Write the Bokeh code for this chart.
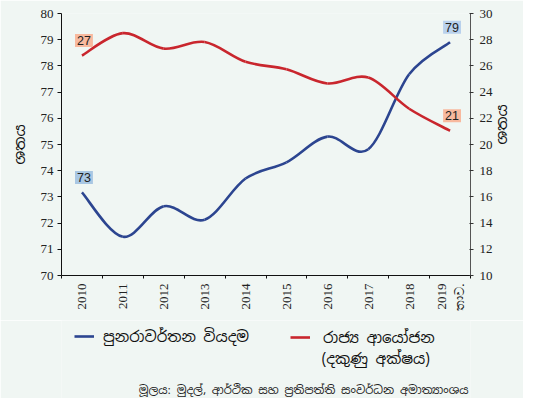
import math
from bokeh.plotting import figure
from bokeh.layouts import column
from bokeh.models import (Range1d, LinearAxis, FixedTicker, SingleIntervalTicker,
                          Label, Legend, LegendItem, ColumnDataSource)
from bokeh.embed import file_html
from bokeh.resources import INLINE

# ---- data ----
years = ["2010", "2011", "2012", "2013", "2014", "2015", "2016", "2017", "2018", "2019\nතාව."]
recurrent = [73.17, 71.48, 72.64, 72.13, 73.70, 74.32, 75.30, 74.82, 77.68, 78.90]      # left axis
investment = [26.79, 28.50, 27.32, 27.82, 26.32, 25.74, 24.66, 25.11, 22.73, 21.05]     # right axis
name_recurrent = "පුනරාවර්තන වියදම"
name_investment = "රාජ්‍ය ආයෝජන"
name_investment_note = "(දකුණු අක්ෂය)"
axis_title = "ශතය"
source_note = "මූලය: මුදල්, ආර්ථික සහ ප්‍රතිපත්ති සංවර්ධන අමාත්‍යාංශය"

BG = "#f0f6f3"
BLUE = "#2c4590"
RED = "#c9262d"
SINH = "Noto Sans Sinhala"
SERIF = "Liberation Serif"

W, H_MAIN, H_FOOT = 523, 320, 78
B_LEFT, B_RIGHT = 61, 50


def smooth_source(ys):
    xs = list(range(len(ys)))
    n = len(ys)
    d = dict(x0=[], y0=[], x1=[], y1=[], cx0=[], cy0=[], cx1=[], cy1=[])
    for i in range(n - 1):
        a = max(i - 1, 0)
        b = min(i + 2, n - 1)
        d["x0"].append(xs[i]); d["y0"].append(ys[i])
        d["x1"].append(xs[i + 1]); d["y1"].append(ys[i + 1])
        d["cx0"].append(xs[i] + (xs[i + 1] - xs[a]) / 6)
        d["cy0"].append(ys[i] + (ys[i + 1] - ys[a]) / 6)
        d["cx1"].append(xs[i + 1] - (xs[b] - xs[i]) / 6)
        d["cy1"].append(ys[i + 1] - (ys[b] - ys[i]) / 6)
    return ColumnDataSource(d)


def bez(fig, ys, color, **kw):
    return fig.bezier(x0="x0", y0="y0", x1="x1", y1="y1", cx0="cx0", cy0="cy0",
                      cx1="cx1", cy1="cy1", source=smooth_source(ys),
                      line_color=color, line_width=2.6, **kw)


# ================= main chart =================
fig = figure(width=W, height=H_MAIN, output_backend="svg", toolbar_location=None,
             x_range=Range1d(-0.5, len(years) - 0.5), y_range=Range1d(70, 80),
             min_border_left=B_LEFT, min_border_right=B_RIGHT, min_border_top=13,
             min_border_bottom=45)
fig.background_fill_color = BG
fig.border_fill_color = BG
fig.outline_line_color = None
fig.xgrid.visible = False
fig.ygrid.visible = False
fig.extra_y_ranges = {"right": Range1d(10, 30)}

# left axis
ya = fig.yaxis[0]
ya.ticker = SingleIntervalTicker(interval=1)
ya.major_tick_out = 4
ya.major_tick_in = 0
ya.minor_tick_out = 0
ya.minor_tick_in = 0
ya.axis_line_color = "#111111"
ya.major_tick_line_color = "#111111"
ya.major_label_text_font = SERIF
ya.major_label_text_font_size = "13px"
ya.major_label_text_color = "#222222"
ya.major_label_standoff = 4
ya.axis_label = axis_title
ya.axis_label_text_font = SINH
ya.axis_label_text_font_style = "normal"
ya.axis_label_text_font_size = "15px"
ya.axis_label_text_color = "#111111"
ya.axis_label_standoff = 9

# right axis (title reads bottom-to-top, like the left one)
ra = LinearAxis(y_range_name="right", ticker=SingleIntervalTicker(interval=2))
ra.major_tick_out = 3
ra.major_tick_in = 1
ra.minor_tick_out = 0
ra.minor_tick_in = 0
ra.axis_line_color = "#555555"
ra.major_tick_line_color = "#333333"
ra.major_label_text_font = SERIF
ra.major_label_text_font_size = "13px"
ra.major_label_text_color = "#222222"
ra.major_label_standoff = 6
ra.axis_label = axis_title
ra.axis_label_orientation = math.pi / 2
ra.axis_label_text_font = SINH
ra.axis_label_text_font_style = "normal"
ra.axis_label_text_font_size = "15px"
ra.axis_label_text_color = "#111111"
ra.axis_label_standoff = 6
fig.add_layout(ra, "right")

# bottom axis
xa = fig.xaxis[0]
xa.ticker = FixedTicker(ticks=list(range(len(years))),
                        minor_ticks=[i - 0.5 for i in range(len(years) + 1)])
xa.major_label_overrides = {i: y for i, y in enumerate(years)}
xa.major_label_orientation = math.pi / 2
xa.major_tick_out = 0
xa.major_tick_in = 0
xa.minor_tick_out = 3
xa.minor_tick_in = 0
xa.minor_tick_line_color = "#111111"
xa.axis_line_color = "#111111"
xa.major_label_text_font = SERIF
xa.major_label_text_font_size = "13px"
xa.major_label_text_color = "#222222"
xa.major_label_standoff = 5

# smoothed lines through the data points
r_blue = bez(fig, recurrent, BLUE)
r_red = bez(fig, investment, RED, y_range_name="right")

# data labels at first and last points
last = len(years) - 1
for xv, yv, rng, bg in [(0, recurrent[0], "default", "#a9c7e3"),
                        (last, recurrent[last], "default", "#b9d1ec"),
                        (0, investment[0], "right", "#f8b99e"),
                        (last, investment[last], "right", "#f8b99e")]:
    fig.add_layout(Label(x=xv, y=yv, y_range_name=rng, text=str(round(yv)),
                         text_align="center", text_baseline="middle", y_offset=15, x_offset=2,
                         text_font="Liberation Sans", text_font_size="12.5px",
                         text_color="#222222", background_fill_color=bg, padding=2))

# ================= footer: legend + source =================
# the footer's frame is aligned with the chart's frame, so its x range is set
# to page pixels over that frame
foot = figure(width=W, height=H_FOOT, output_backend="svg", toolbar_location=None,
              x_range=Range1d(B_LEFT, W - B_RIGHT), y_range=Range1d(0, H_FOOT), min_border=0,
              x_axis_location=None, y_axis_location=None)
foot.background_fill_color = BG
foot.border_fill_color = BG
foot.outline_line_color = None
foot.xgrid.visible = False
foot.ygrid.visible = False

# hidden copies of the two series, used only for the legend swatches
k_blue = bez(foot, recurrent, BLUE, visible=False)
k_red = bez(foot, investment, RED, visible=False)

common = dict(orientation="horizontal", padding=0, margin=0, border_line_color=None,
              background_fill_alpha=0, glyph_width=20, glyph_height=20, label_height=20,
              label_text_font=SINH, label_text_font_size="15px", label_text_color="#111111")
lg1 = Legend(items=[LegendItem(label=name_recurrent, renderers=[k_blue])],
             location=(74 - B_LEFT, 52), label_standoff=9, **common)
lg2 = Legend(items=[LegendItem(label=name_investment, renderers=[k_red])],
             location=(290 - B_LEFT, 51), label_standoff=13, **common)
foot.add_layout(lg1)
foot.add_layout(lg2)

foot.add_layout(Label(x=323, y=40, text=name_investment_note, text_align="left",
                      text_baseline="middle", text_font=SINH, text_font_size="15px",
                      text_color="#111111"))
foot.add_layout(Label(x=W - B_RIGHT - 2, y=9, text=source_note, text_align="right",
                      text_baseline="middle", text_font=SINH, text_font_size="11.5px",
                      text_color="#222222"))

p = column(fig, foot, spacing=0)

open("out.html", "w").write(file_html(p, INLINE))
